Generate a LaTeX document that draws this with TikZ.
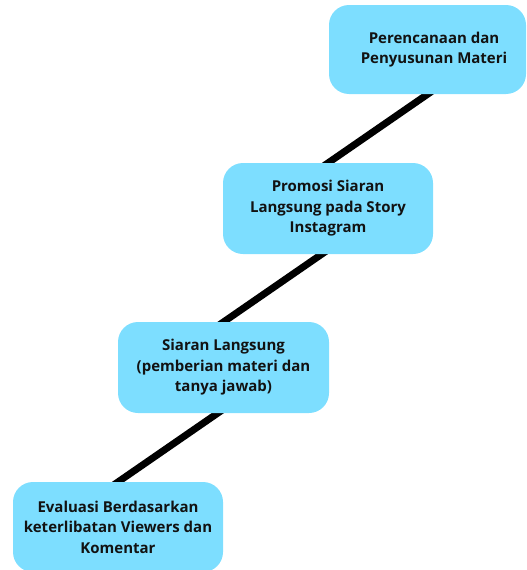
\documentclass[tikz,border=0pt]{standalone}
\usepackage{fontspec}
\setmainfont{Open Sans}
\usetikzlibrary{backgrounds}
\definecolor{boxblue}{RGB}{125,222,255}
\definecolor{txt}{RGB}{18,18,18}
\begin{document}
\begin{tikzpicture}[x=1pt,y=-1pt,
  box/.style={fill=boxblue, draw=none, rounded corners=20pt, inner sep=0pt, rectangle},
  lbl/.style={font=\bfseries\fontsize{15}{20.5}\selectfont, text=txt, align=center},
  conn/.style={line width=7pt, black}]
\useasboundingbox (0,0) rectangle (527,570);
\clip (0,0) rectangle (527,570);
% boxes
\node[box, minimum width=197pt, minimum height=89pt] (b1) at (427.5,49.5) {};
\node[box, minimum width=210pt, minimum height=91pt] (b2) at (328,208.5) {};
\node[box, minimum width=211pt, minimum height=91pt] (b3) at (223.5,367.5) {};
\node[box, minimum width=210pt, minimum height=90pt] (b4) at (118,527) {};
% connectors, behind the boxes
\begin{pgfonlayer}{background}
\draw[conn] ([shift={(-7,5)}]b2.north) -- ([shift={(106,-73)}]b2.north);
\draw[conn] ([shift={(-7,5)}]b3.north) -- ([shift={(106,-73)}]b3.north);
\draw[conn] ([shift={(-7,5)}]b4.north) -- ([shift={(106,-73)}]b4.north);
\end{pgfonlayer}
% texts
\node[lbl] (t1) at (434,49.5) {Perencanaan dan\\Penyusunan Materi};
\node[lbl] (t2) at (b2.center) {Promosi Siaran\\Langsung pada Story\\Instagram};
\node[lbl] (t3) at (b3.center) {Siaran Langsung\\(pemberian materi dan\\tanya jawab)};
\node[lbl] (t4) at (b4.center) {Evaluasi Berdasarkan\\keterlibatan Viewers dan\\Komentar};
\end{tikzpicture}
\end{document}
